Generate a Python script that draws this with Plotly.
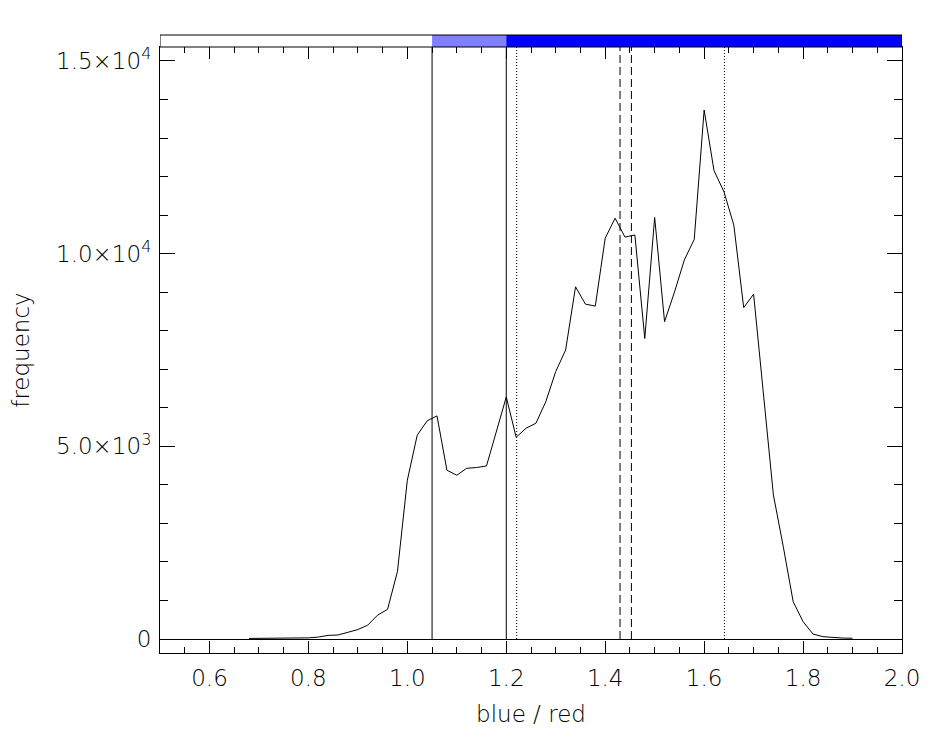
import plotly.graph_objects as go

# ---- data ----
ratio = [0.68, 0.70, 0.72, 0.74, 0.76, 0.78, 0.80, 0.82, 0.84, 0.86, 0.88, 0.90,
         0.92, 0.94, 0.96, 0.98, 1.00, 1.02, 1.04, 1.06, 1.08, 1.10, 1.12, 1.14,
         1.16, 1.18, 1.20, 1.22, 1.24, 1.26, 1.28, 1.30, 1.32, 1.34, 1.36, 1.38,
         1.40, 1.42, 1.44, 1.46, 1.48, 1.50, 1.52, 1.54, 1.56, 1.58, 1.60, 1.62,
         1.64, 1.66, 1.68, 1.70, 1.72, 1.74, 1.76, 1.78, 1.80, 1.82, 1.84, 1.86,
         1.88, 1.90]
frequency = [15, 15, 15, 20, 20, 25, 30, 50, 95, 105, 170, 245,
             360, 620, 770, 1750, 4120, 5290, 5660, 5790, 4380, 4250, 4430, 4450,
             4490, 5380, 6280, 5235, 5470, 5600, 6160, 6940, 7500, 9140, 8690, 8640,
             10400, 10920, 10430, 10485, 7800, 10940, 8235, 9000, 9836, 10373, 13728, 12154,
             11609, 10744, 8600, 8950, 6300, 3740, 2400, 970, 450, 130, 60, 35,
             25, 20]

solid_lines = [1.05, 1.20]
dashed_lines = [1.430, 1.453]
dotted_lines = [1.221, 1.641]

band_edges = [0.5, 1.05, 1.20, 2.0]
band_colors = ["#ffffff", "#8080ff", "#0000ff"]

x_tickvals = [0.6, 0.8, 1.0, 1.2, 1.4, 1.6, 1.8, 2.0]
x_ticktext = ["0.6", "0.8", "1.0", "1.2", "1.4", "1.6", "1.8", "2.0"]
y_tickvals = [0, 5000, 10000, 15000]
y_ticktext = ["0", "5.0×10<sup>3</sup>", "1.0×10<sup>4</sup>", "1.5×10<sup>4</sup>"]

x_range = [0.5, 2.0]
y_range = [-363, 15363]

FONT = "DejaVu Sans"
FONTSPEC = dict(family=FONT, size=23, color="black", weight=200)

fig = go.Figure()
fig.add_trace(go.Scatter(x=ratio, y=frequency, mode="lines",
                         line=dict(color="black", width=1), showlegend=False,
                         hoverinfo="x+y"))

shapes = []
for v in solid_lines:
    shapes.append(dict(type="line", xref="x", yref="y", x0=v, x1=v, y0=0, y1=y_range[1],
                       line=dict(color="black", width=1)))
for v in dashed_lines:
    shapes.append(dict(type="line", xref="x", yref="y", x0=v, x1=v, y0=0, y1=y_range[1],
                       line=dict(color="black", width=1, dash="8px,4px")))
for v in dotted_lines:
    shapes.append(dict(type="line", xref="x", yref="y", x0=v, x1=v, y0=0, y1=y_range[1],
                       line=dict(color="black", width=1, dash="1px,2px")))
bar_h = 12 / 606
for i, c in enumerate(band_colors):
    shapes.append(dict(type="rect", xref="x", yref="paper", x0=band_edges[i], x1=band_edges[i + 1],
                       y0=1, y1=1 + bar_h, fillcolor=c, line=dict(width=0), layer="above"))
shapes.append(dict(type="rect", xref="x", yref="paper", x0=band_edges[0], x1=band_edges[-1],
                   y0=1, y1=1 + bar_h, fillcolor="rgba(0,0,0,0)",
                   line=dict(color="black", width=1), layer="above"))

fig.update_layout(
    width=942, height=742,
    margin=dict(l=152, r=48, t=39, b=97, autoexpand=False),
    paper_bgcolor="white", plot_bgcolor="white",
    font=FONTSPEC,
    shapes=shapes,
    showlegend=False,
)

fig.update_xaxes(
    range=x_range, tickvals=x_tickvals, ticktext=x_ticktext,
    ticks="inside", ticklen=12, tickwidth=1, tickcolor="black",
    minor=dict(dtick=0.05, tick0=0.5, ticks="inside", ticklen=6, tickwidth=1, tickcolor="black"),
    showline=True, linecolor="black", linewidth=1, mirror="ticks",
    showgrid=False, zeroline=False,
    ticklabelstandoff=4,
    tickfont=FONTSPEC,
    title=dict(text="blue / red", font=FONTSPEC, standoff=16),
    automargin=False,
)
fig.update_yaxes(
    range=y_range, tickvals=y_tickvals, ticktext=y_ticktext,
    ticks="inside", ticklen=15, tickwidth=1, tickcolor="black",
    minor=dict(dtick=1000, tick0=0, ticks="inside", ticklen=8, tickwidth=1, tickcolor="black"),
    showline=True, linecolor="black", linewidth=1, mirror="ticks",
    showgrid=False, zeroline=True, zerolinecolor="black", zerolinewidth=1,
    ticklabelstandoff=3,
    tickfont=FONTSPEC,
    title=dict(text="frequency", font=FONTSPEC, standoff=49),
    automargin=False,
)

fig.write_html("out.html")
